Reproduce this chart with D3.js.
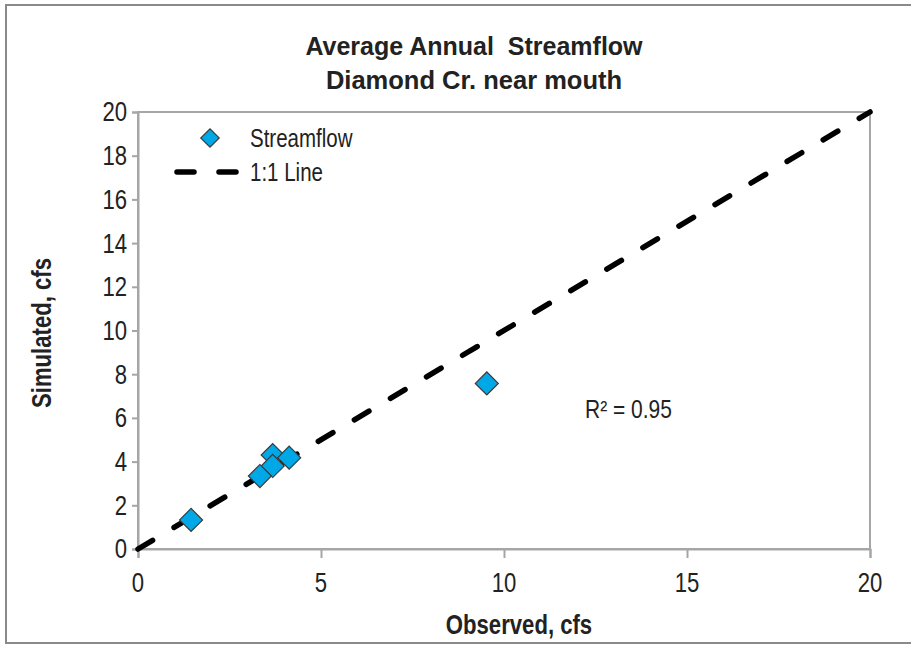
<!DOCTYPE html>
<html><head><meta charset="utf-8">
<script src="https://cdn.jsdelivr.net/npm/d3@7"></script>
<style>
html,body{margin:0;padding:0;background:#fff;}
text{font-family:"Liberation Sans",Arial,sans-serif;fill:#222;}
</style></head>
<body><svg id="chart" width="911" height="645"></svg>
<script>
const titleLines = ["Average Annual  Streamflow", "Diamond Cr. near mouth"];
const observed  = [3.68, 4.13, 3.68, 3.33, 1.45, 9.53];
const simulated = [4.30, 4.18, 3.80, 3.34, 1.33, 7.58];
const oneToOne  = [[0, 0], [20, 20]];
const xTicks = [0, 5, 10, 15, 20];
const yTicks = [0, 2, 4, 6, 8, 10, 12, 14, 16, 18, 20];
const xLabel = "Observed, cfs";
const yLabel = "Simulated, cfs";
const legendLabels = ["Streamflow", "1:1 Line"];
const r2Label = "R² = 0.95";

const NARROW = 0.82;
const svg = d3.select("#chart");
// outer frame
svg.append("rect").attr("x",6).attr("y",5).attr("width",930).attr("height",638)
  .attr("fill","#fff").attr("stroke","#8a8a8a").attr("stroke-width",2);

const x = d3.scaleLinear().domain([0,20]).range([138,870]);
const y = d3.scaleLinear().domain([0,20]).range([549,112]);

// narrow text helper: draws text horizontally condensed around (px,py)
function narrowText(parent, px, py, str, size, opts={}) {
  const g = parent.append("g").attr("transform",`translate(${px},${py})${opts.rotate?` rotate(${opts.rotate})`:""} scale(${opts.sx||NARROW},1)`);
  const t = g.append("text").attr("x",0).attr("y",0).attr("font-size",size)
    .attr("text-anchor",opts.anchor||"start").style("white-space","pre").text(str);
  if (opts.bold) t.attr("font-weight","bold");
  if (opts.dy) t.attr("dy",opts.dy);
  return t;
}

// plot border
svg.append("rect").attr("x",x(0)).attr("y",y(20)).attr("width",x(20)-x(0)).attr("height",y(0)-y(20))
  .attr("fill","none").attr("stroke","#a6a6a6").attr("stroke-width",2);

const xAxis = svg.append("g").attr("transform",`translate(0,${y(0)})`)
  .call(d3.axisBottom(x).tickValues(xTicks).tickSize(9).tickFormat(""));
const yAxis = svg.append("g").attr("transform",`translate(${x(0)},0)`)
  .call(d3.axisLeft(y).tickValues(yTicks).tickSize(6).tickFormat(""));
[xAxis,yAxis].forEach(a=>{
  a.selectAll("path").attr("stroke","#a6a6a6").attr("stroke-width",2);
  a.selectAll("line").attr("stroke","#a6a6a6").attr("stroke-width",2);
});
// tick labels through the scales
xTicks.forEach(v=>narrowText(svg, x(v), 583, String(v), 27, {anchor:"middle", dy:"0.35em"}));
yTicks.forEach(v=>narrowText(svg, 127, y(v), String(v), 27, {anchor:"end", dy:"0.35em"}));

// 1:1 line
const line = d3.line().x(d=>x(d[0])).y(d=>y(d[1]));
svg.append("path").datum(oneToOne).attr("d",line).attr("fill","none")
  .attr("stroke","#000").attr("stroke-width",5.5).attr("stroke-linecap","round")
  .attr("stroke-dasharray","17,25");

// points
const diamond = d3.symbol().type(d3.symbolSquare).size(265);
svg.append("g").selectAll("path").data(observed.map((o,i)=>[o,simulated[i]])).join("path")
  .attr("d",diamond)
  .attr("transform",d=>`translate(${x(d[0])},${y(d[1])}) rotate(45)`)
  .attr("fill","#00A8E8").attr("stroke","#3b3b3b").attr("stroke-width",1.2);

// titles
svg.append("text").attr("x",474).attr("y",55).attr("text-anchor","middle").style("white-space","pre")
  .attr("font-size",25).attr("font-weight","bold").text(titleLines[0]);
svg.append("text").attr("x",474).attr("y",89).attr("text-anchor","middle").style("white-space","pre")
  .attr("font-size",25.5).attr("font-weight","bold").text(titleLines[1]);

narrowText(svg, 519, 634, xLabel, 27, {anchor:"middle", bold:true});
narrowText(svg, 51, 333, yLabel, 27, {anchor:"middle", bold:true, rotate:-90});

// legend
const lg = svg.append("g");
lg.append("path").attr("d",d3.symbol().type(d3.symbolSquare).size(170))
  .attr("transform","translate(210,138) rotate(45)")
  .attr("fill","#00A8E8").attr("stroke","#3b3b3b").attr("stroke-width",1.2);
lg.append("path").attr("d",d3.line()([[177,172],[240,172]])).attr("stroke","#000")
  .attr("stroke-width",5.5).attr("stroke-linecap","round").attr("stroke-dasharray","17,25");
narrowText(lg, 250, 138, legendLabels[0], 25, {dy:"0.35em"});
narrowText(lg, 250, 172, legendLabels[1], 25, {dy:"0.35em"});

narrowText(svg, 585, 418, r2Label, 25, {sx:0.84});
</script></body></html>
